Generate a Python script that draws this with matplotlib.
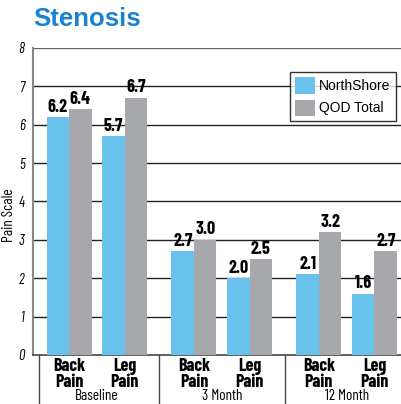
import matplotlib
matplotlib.use("Agg")
import matplotlib.pyplot as plt
import matplotlib.transforms as mtransforms
import numpy as np

# data
groups = ["Baseline", "3 Month", "12 Month"]
cats = ["Back\nPain", "Leg\nPain", "Back\nPain", "Leg\nPain", "Back\nPain", "Leg\nPain"]
northshore = [6.2, 5.7, 2.7, 2.0, 2.1, 1.6]
qod_total = [6.4, 6.7, 3.0, 2.5, 3.2, 2.7]

blue = "#68C2EC"
gray = "#A7A8AC"
narrow = ["Barlow Condensed", "DejaVu Sans"]
plt.rcParams["font.family"] = ["Liberation Sans", "DejaVu Sans"]

fig = plt.figure(figsize=(4.01, 4.04), dpi=100)
ax = fig.add_axes([0.0823, 0.1213, 0.918, 0.760])

x = np.array([0, 1, 2.25, 3.25, 4.5, 5.5])
w = 0.405
b1 = ax.bar(x - w / 2, northshore, w, color=blue, label="NorthShore", zorder=3)
b2 = ax.bar(x + w / 2, qod_total, w, color=gray, label="QOD Total", zorder=3)

for bars, vals in ((b1, northshore), (b2, qod_total)):
    for r, v in zip(bars, vals):
        ax.annotate(f"{v:.1f}", (r.get_x() + r.get_width() / 2, v), xytext=(0, 1),
                    textcoords="offset points", ha="center", va="bottom",
                    fontsize=13, fontweight="bold", family=narrow, zorder=4)

ax.set_xlim(-0.649, 5.98)
ax.set_ylim(0, 8)
ax.set_yticks(range(0, 9))
ax.set_yticklabels([str(i) for i in range(0, 9)], fontstyle="italic", fontsize=10.5, family=narrow)
ax.tick_params(axis="y", length=0, pad=6)
ax.set_xticks([])
for yv in range(1, 9):
    ax.axhline(yv, color="#666666" if yv == 8 else "#222222", lw=1, zorder=1)
for s in ["top", "right"]:
    ax.spines[s].set_visible(False)
ax.spines["left"].set_color("#888888")
ax.spines["left"].set_linewidth(1.5)
ax.spines["bottom"].set_color("#444444")
ax.spines["bottom"].set_linewidth(1.2)
fig.text(9 / 401, 1 - 215 / 404, "Pain Scale", rotation=90, ha="center", va="center",
         fontsize=11, family=narrow)

trans = ax.get_xaxis_transform()
for sx in [-0.54, 1.625, 3.89]:
    ax.plot([sx, sx], [0, -0.17], color="#444444", lw=1, transform=trans, clip_on=False)
for xi, c in zip(x, cats):
    ax.text(xi, -0.01, c, transform=trans, ha="center", va="top", fontsize=13,
            fontweight="bold", family=narrow, linespacing=0.88)

# group labels at the very bottom of the figure
gtrans = mtransforms.blended_transform_factory(ax.transData, fig.transFigure)
gx = [0.5, 2.75, 5.0]
for xi, g in zip(gx, groups):
    ax.text(xi, 0.002, g, transform=gtrans, ha="center", va="bottom",
            fontsize=11, family=narrow)

leg = ax.legend(loc="upper right", bbox_to_anchor=(0.986, 0.922), fontsize=10,
                frameon=True, fancybox=False, handlelength=1.4, handleheight=1.4,
                borderpad=0.4, labelspacing=0.45, handletextpad=0.3, borderaxespad=0)
leg.get_frame().set_edgecolor("black")
leg.get_frame().set_linewidth(1)
leg.set_zorder(5)

fig.text(0.0823, 0.953, "Stenosis", color="#1A82CF", fontsize=18.5, fontweight="bold",
         ha="left", va="center")

fig.savefig("out.png", dpi=100)
